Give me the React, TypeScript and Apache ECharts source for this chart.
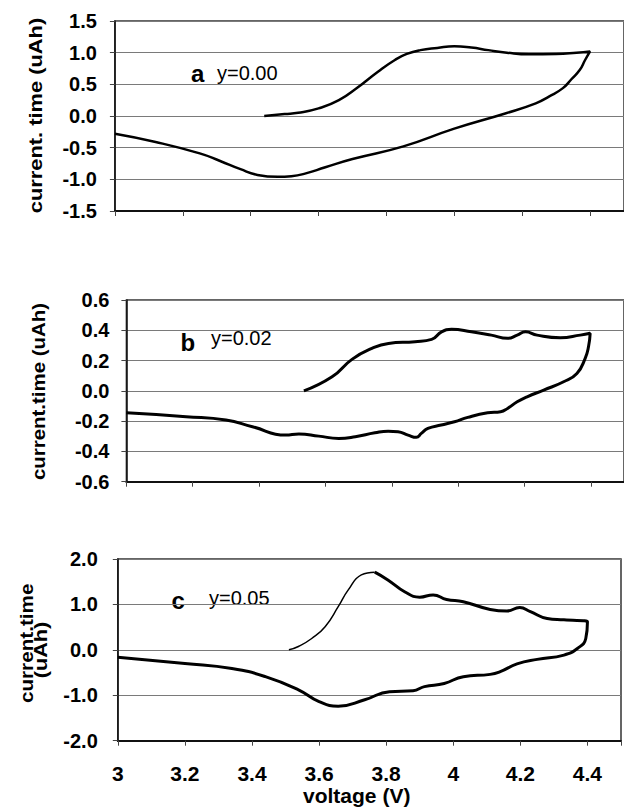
import React, { useEffect, useRef } from "react";
import * as echarts from "echarts";

// Panel a: y = 0.00
const aVoltage = [3.44, 3.50, 3.54, 3.60, 3.66, 3.715, 3.775, 3.825, 3.86, 3.90, 3.95, 4.00, 4.05, 4.10, 4.155, 4.22, 4.30, 4.36, 4.40,
  4.385, 4.37, 4.345, 4.32, 4.28, 4.24, 4.15, 4.00, 3.85, 3.70, 3.62, 3.56, 3.52, 3.48, 3.42, 3.37, 3.31, 3.25, 3.12, 3.00];
const aCurrent = [0.00, 0.03, 0.05, 0.12, 0.25, 0.45, 0.70, 0.885, 0.98, 1.04, 1.075, 1.10, 1.08, 1.04, 1.00, 0.975, 0.98, 1.00, 1.02,
  0.88, 0.73, 0.58, 0.44, 0.31, 0.20, 0.04, -0.20, -0.48, -0.68, -0.81, -0.91, -0.95, -0.96, -0.93, -0.84, -0.71, -0.59, -0.41, -0.28];

// Panel b: y = 0.02
const bVoltage = [3.535, 3.62, 3.68, 3.74, 3.79, 3.87, 3.92, 3.95, 3.98, 4.04, 4.10, 4.149, 4.178, 4.203, 4.238, 4.308, 4.368, 4.398,
  4.393, 4.383, 4.358, 4.318, 4.258, 4.208, 4.178, 4.149, 4.128, 4.089, 4.029, 3.989, 3.949, 3.909, 3.889, 3.874, 3.849, 3.819, 3.789, 3.749, 3.69, 3.64, 3.58, 3.52, 3.48, 3.38, 3.30, 3.18, 3.00];
const bCurrent = [0.00, 0.093, 0.208, 0.28, 0.313, 0.325, 0.34, 0.39, 0.406, 0.39, 0.368, 0.347, 0.368, 0.39, 0.368, 0.351, 0.368, 0.38,
  0.291, 0.215, 0.115, 0.06, 0.005, -0.039, -0.072, -0.116, -0.138, -0.145, -0.175, -0.204, -0.226, -0.248, -0.281, -0.307, -0.292, -0.27, -0.266, -0.277, -0.303, -0.314, -0.299, -0.285, -0.292, -0.237, -0.193, -0.171, -0.145];

// Panel c: y = 0.05 (thin rising part, then thick remainder)
const cRiseVoltage = [3.51, 3.54, 3.578, 3.618, 3.657, 3.687, 3.726, 3.766];
const cRiseCurrent = [0.00, 0.08, 0.25, 0.51, 0.95, 1.32, 1.65, 1.71];
const cVoltage = [3.766, 3.805, 3.855, 3.90, 3.94, 3.98, 4.03, 4.11, 4.16, 4.198, 4.23, 4.28, 4.33, 4.40,
  4.395, 4.37, 4.33, 4.25, 4.19, 4.14, 4.11, 4.03, 3.973, 3.914, 3.88, 3.81, 3.736, 3.657, 3.60, 3.54, 3.44, 3.34, 3.20, 3.00];
const cCurrent = [1.71, 1.54, 1.28, 1.16, 1.21, 1.11, 1.06, 0.89, 0.855, 0.93, 0.84, 0.69, 0.66, 0.62,
  0.25, 0.03, -0.115, -0.21, -0.31, -0.48, -0.54, -0.59, -0.74, -0.81, -0.90, -0.92, -1.10, -1.24, -1.14, -0.885, -0.59, -0.41, -0.30, -0.165];

const xTicks = [3, 3.2, 3.4, 3.6, 3.8, 4, 4.2, 4.4];
const yRanges = [
  { min: -1.5, max: 1.5, interval: 0.5 },
  { min: -0.6, max: 0.6, interval: 0.2 },
  { min: -2, max: 2, interval: 1 },
];

const pairs = (xs: number[], ys: number[]) => xs.map((x, i) => [x, ys[i]]);

const FONT = '"Liberation Sans", Arial, Helvetica, sans-serif';

export default function App() {
  const ref = useRef<HTMLDivElement>(null);
  useEffect(() => {
    if (!ref.current) return;
    const chart = echarts.init(ref.current, undefined, { renderer: "svg" });
    const grids = [
      { left: 114.9, top: 21, width: 513, height: 190 },
      { left: 126.4, top: 300, width: 501, height: 181.7 },
      { left: 117.8, top: 559, width: 505.7, height: 181.7 },
    ];
    const labelMargins = [18, 17, 20];
    const xAxis = grids.map((_, i) => ({
      type: "value",
      gridIndex: i,
      min: 3,
      max: 4.5,
      interval: 0.2,
      axisLine: { show: true, onZero: false, lineStyle: { color: "#111", width: 2 } },
      axisTick: { show: true, length: 5, inside: false, lineStyle: { color: "#444", width: 1 } },
      axisLabel: {
        show: i === 2,
        margin: 22,
        fontSize: 21,
        fontWeight: "bold",
        fontFamily: FONT,
        color: "#000",
        formatter: (v: number) => {
          const t = xTicks.find((k) => Math.abs(k - v) < 1e-6);
          return t === undefined ? "" : String(t);
        },
      },
      splitLine: { show: false },
    }));
    const yAxis = yRanges.map((r, i) => ({
      type: "value",
      gridIndex: i,
      min: r.min,
      max: r.max,
      interval: r.interval,
      axisLine: { show: true, onZero: false, lineStyle: { color: "#111", width: 1.5 } },
      axisTick: { show: true, length: 5, lineStyle: { color: "#444" } },
      axisLabel: {
        margin: labelMargins[i],
        fontSize: 20,
        fontWeight: "bold",
        fontFamily: FONT,
        color: "#000",
        formatter: (v: number) => v.toFixed(1),
      },
      splitLine: { show: true, lineStyle: { color: "#7a7a7a", width: 1 } },
    }));
    const lineSeries = (data: number[][], idx: number, width: number) => ({
      type: "line",
      xAxisIndex: idx,
      yAxisIndex: idx,
      data,
      smooth: 0.5,
      showSymbol: false,
      symbol: "none",
      lineStyle: { color: "#000", width },
      silent: true,
    });
    const txt = (text: string, x: number, y: number, size: number, bold: boolean, extra: any = {}) => ({
      type: "text",
      x,
      y,
      ...extra,
      style: {
        text,
        fill: "#000",
        fontSize: size,
        fontWeight: bold ? "bold" : "normal",
        fontFamily: FONT,
        align: extra.align || "left",
        verticalAlign: "middle",
        textAlign: extra.align || "left",
        textVerticalAlign: "middle",
      },
    });
    const rot = (text: string, x: number, y: number, sx: number) =>
      txt(text, x, y, 19, true, { rotation: Math.PI / 2, scaleX: sx, align: "center" });

    chart.setOption({
      animation: false,
      grid: grids.map((g) => ({ ...g, show: true, borderColor: "#333", borderWidth: 1.5, containLabel: false })),
      xAxis,
      yAxis,
      series: [
        lineSeries(pairs(aVoltage, aCurrent), 0, 2.5),
        lineSeries(pairs(bVoltage, bCurrent), 1, 3),
        lineSeries(pairs(cRiseVoltage, cRiseCurrent), 2, 1.5),
        lineSeries(pairs(cVoltage, cCurrent), 2, 3),
      ],
      graphic: [
        rot("current. time (uAh)", 35, 115.5, 1.15),
        rot("current.time (uAh)", 38.5, 391.5, 1.075),
        rot("current.time", 26.5, 643.3, 1.09),
        rot("(uAh)", 40, 650, 1.14),
        txt("a", 191, 73.3, 24, true),
        txt("y=0.00", 217, 73, 20, false),
        txt("b", 180.5, 342, 24, true),
        txt("y=0.02", 211, 338, 20, false),
        txt("c", 171.5, 600, 24, true),
        txt("y=0.05", 209, 598, 20, false),
        txt("voltage (V)", 356.7, 795.5, 21, true, { align: "center" }),
      ],
    });
    return () => chart.dispose();
  }, []);
  return (
    <div
      ref={ref}
      style={{ position: "absolute", left: 0, top: 0, width: 624, height: 808, background: "#fff" }}
    />
  );
}
